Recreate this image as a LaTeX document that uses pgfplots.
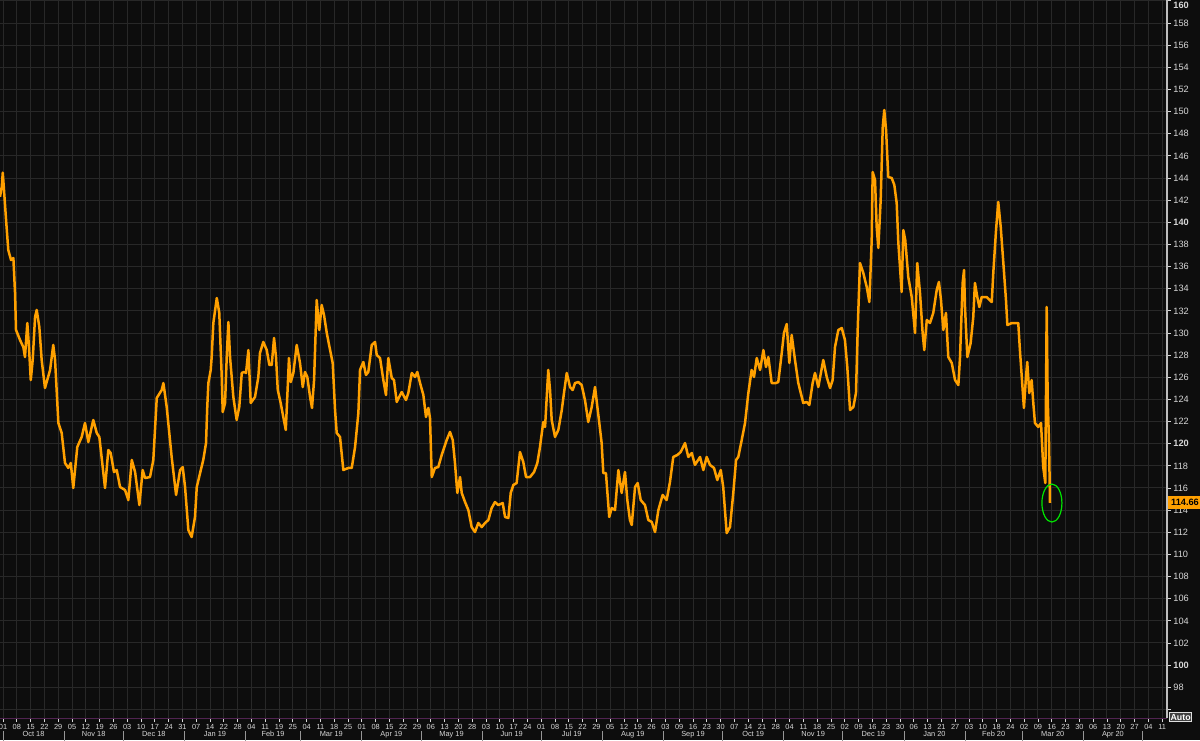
\documentclass[border=0pt]{standalone}
\usepackage{pgfplots}
\pgfplotsset{compat=1.18}
\usepackage{fontspec}
\setmainfont{Liberation Sans}
\usetikzlibrary{backgrounds}
\definecolor{bg}{RGB}{13,13,13}
\definecolor{gridc}{RGB}{40,40,40}
\definecolor{skew}{RGB}{255,160,0}
\definecolor{lbl}{RGB}{215,215,215}
\definecolor{xline}{RGB}{80,35,80}
\definecolor{yline}{RGB}{190,190,190}
\definecolor{ringc}{RGB}{0,230,0}
\begin{document}
\begin{tikzpicture}[background rectangle/.style={fill=bg,draw=none}, show background rectangle, inner frame sep=0pt]
\begin{axis}[
 name=ax, scale only axis, width=583.5pt, height=359pt,
 xmin=-0.22, xmax=84.35, ymin=95.22, ymax=160.08,
 axis x line*=bottom, axis y line*=right,
 x axis line style={color=xline, line width=0.5pt},
 y axis line style={color=yline, line width=0.6pt},
 xtick={0,...,84},
 xticklabels={01,08,15,22,29,05,12,19,26,03,10,17,24,31,07,14,22,28,04,11,19,25,04,11,18,25,01,08,15,22,29,06,13,20,28,03,10,17,24,01,08,15,22,29,05,12,19,26,03,09,16,23,30,07,14,21,28,04,11,18,25,02,09,16,23,30,06,13,21,27,03,10,18,24,02,09,16,23,30,06,13,20,27,04,11},
 ytick={96,98,...,160},
 yticklabels={{},98,\textbf{100},102,104,106,108,110,112,114,116,118,\textbf{120},122,124,126,128,130,132,134,136,138,\textbf{140},142,144,146,148,150,152,154,156,158,\raisebox{-3.7pt}[0pt][0pt]{\textbf{160}}},
 grid=major, major grid style={color=gridc, line width=0.5pt},
 tick align=outside, major tick length=2pt,
 every tick/.style={color=lbl, line width=0.4pt},
 xticklabel style={font=\fontsize{3.7}{4}\selectfont, text=lbl, inner sep=0pt, anchor=north, yshift=-1pt},
 yticklabel style={font=\fontsize{4.6}{5}\selectfont, text=lbl, inner sep=0pt, anchor=west, xshift=1pt},
 extra x ticks={2.21,6.57,10.93,15.36,19.57,23.79,28.14,32.5,36.86,41.21,45.64,50.0,54.36,58.71,63.07,67.5,71.79,76.07,80.43},
 extra x tick labels={Oct 18,Nov 18,Dec 18,Jan 19,Feb 19,Mar 19,Apr 19,May 19,Jun 19,Jul 19,Aug 19,Sep 19,Oct 19,Nov 19,Dec 19,Jan 20,Feb 20,Mar 20,Apr 20},
 extra x tick style={grid=none, major tick length=0pt, tick label style={font=\bfseries\fontsize{4.4}{5}\selectfont, yshift=-5.3pt}},
 clip=false,
]
\addplot[color=skew, line width=1.25pt, line join=round] coordinates {
(-0.22,142.31) (-0.09,143.22) (-0.02,144.48) (0.07,142.92) (0.22,140.21) (0.38,137.50) (0.58,136.59) (0.75,136.77) (0.87,133.61) (0.94,130.27)
(1.23,129.37) (1.47,128.73) (1.59,127.83) (1.76,130.90) (1.88,128.73) (2.01,125.75) (2.15,127.56) (2.32,131.44) (2.44,132.08) (2.63,130.54)
(2.80,127.56) (3.04,125.03) (3.41,126.66) (3.64,128.92) (3.77,127.56) (4.01,121.87) (4.25,120.97) (4.49,118.26) (4.73,117.81) (4.91,118.26)
(5.09,116.00) (5.38,119.70) (5.70,120.61) (5.94,121.87) (6.18,120.15) (6.54,122.14) (6.79,120.97) (6.98,120.61) (7.39,116.00) (7.63,119.43)
(7.80,119.16) (8.04,117.44) (8.24,117.62) (8.48,116.09) (8.84,115.82) (9.08,114.91) (9.33,118.53) (9.57,117.44) (9.88,114.46) (10.12,117.62)
(10.29,116.90) (10.65,116.99) (10.89,118.53) (11.14,124.13) (11.50,124.85) (11.62,125.48) (11.86,123.32) (12.22,118.80) (12.54,115.37) (12.83,117.62)
(13.02,117.89) (13.19,116.09) (13.43,112.20) (13.67,111.57) (13.91,113.38) (14.04,116.09) (14.28,117.35) (14.51,118.53) (14.71,120.06) (14.80,123.32)
(14.88,125.48) (15.05,126.66) (15.12,127.83) (15.24,130.90) (15.49,133.16) (15.67,131.81) (15.85,126.03) (15.92,122.86) (16.09,123.68) (16.21,127.83)
(16.33,130.99) (16.45,127.83) (16.69,124.22) (16.93,122.14) (17.12,123.32) (17.30,126.39) (17.46,126.48) (17.61,126.39) (17.78,128.46) (17.95,123.68)
(18.26,124.22) (18.50,126.03) (18.62,128.19) (18.86,129.19) (19.11,128.46) (19.30,127.11) (19.47,127.11) (19.64,129.55) (19.78,127.83) (19.91,124.85)
(20.12,123.68) (20.31,122.41) (20.49,121.24) (20.63,125.12) (20.72,127.74) (20.85,125.57) (21.04,126.39) (21.28,128.92) (21.52,127.29) (21.72,125.12)
(21.88,126.48) (22.05,126.03) (22.25,124.22) (22.39,123.23) (22.54,125.75) (22.73,132.98) (22.92,130.27) (23.09,132.53) (23.26,131.63) (23.46,130.00)
(23.70,128.46) (23.89,127.29) (24.06,123.04) (24.18,120.97) (24.42,120.61) (24.66,117.62) (25.02,117.81) (25.27,117.81) (25.51,119.70) (25.75,122.77)
(25.87,126.66) (26.11,127.38) (26.30,126.21) (26.47,126.48) (26.72,128.92) (26.96,129.19) (27.08,128.01) (27.32,127.74) (27.56,125.75) (27.75,124.40)
(27.92,127.74) (28.17,125.93) (28.33,125.75) (28.53,123.77) (28.89,124.67) (29.20,123.95) (29.37,124.58) (29.62,126.39) (29.86,126.03) (30.02,126.48)
(30.22,125.48) (30.46,124.40) (30.65,122.41) (30.82,123.23) (30.94,122.32) (31.07,116.99) (31.30,117.81) (31.54,117.89) (31.79,118.98) (32.15,120.33)
(32.39,121.06) (32.59,120.33) (32.75,118.26) (32.92,115.55) (33.12,116.99) (33.24,115.55) (33.48,114.73) (33.72,114.01) (33.96,112.47) (34.20,112.02)
(34.44,112.84) (34.69,112.47) (34.93,112.84) (35.17,113.11) (35.41,114.19) (35.65,114.73) (35.89,114.46) (36.21,114.64) (36.38,113.38) (36.62,113.29)
(36.79,115.55) (36.98,116.27) (37.22,116.45) (37.46,119.25) (37.70,118.35) (37.90,116.99) (38.19,116.99) (38.48,117.44) (38.72,118.26) (38.91,119.70)
(39.15,121.96) (39.28,121.51) (39.51,126.66) (39.64,124.85) (39.76,122.14) (40.00,120.61) (40.24,121.24) (40.49,123.04) (40.65,124.58) (40.85,126.39)
(41.09,125.12) (41.28,124.85) (41.45,125.48) (41.69,125.57) (41.93,125.30) (42.17,123.95) (42.41,121.96) (42.66,123.32) (42.90,125.12) (43.07,123.32)
(43.21,121.87) (43.38,120.06) (43.50,117.35) (43.69,117.35) (43.93,113.38) (44.11,114.19) (44.35,114.01) (44.59,117.62) (44.83,115.55) (45.07,117.44)
(45.24,114.91) (45.43,113.11) (45.56,112.66) (45.80,116.09) (45.99,116.45) (46.21,114.91) (46.52,114.46) (46.76,113.11) (47.01,112.93) (47.25,112.02)
(47.49,114.01) (47.80,115.37) (48.09,114.91) (48.33,116.54) (48.57,118.80) (48.86,118.98) (49.11,119.25) (49.42,120.06) (49.66,118.80) (49.91,119.16)
(50.14,118.08) (50.51,118.80) (50.75,117.62) (50.99,118.80) (51.23,118.08) (51.52,117.81) (51.76,116.72) (52.01,117.62) (52.19,116.09) (52.44,111.93)
(52.68,112.47) (52.92,115.55) (53.12,118.53) (53.28,118.80) (53.53,120.33) (53.77,121.87) (54.01,124.58) (54.25,126.66) (54.42,126.03) (54.62,127.74)
(54.86,126.66) (55.10,128.46) (55.29,126.93) (55.46,127.83) (55.70,125.48) (56.01,125.48) (56.18,125.57) (56.43,128.19) (56.59,130.00) (56.79,130.81)
(56.98,127.29) (57.15,129.82) (57.39,127.56) (57.63,125.48) (57.99,123.68) (58.24,123.77) (58.43,123.50) (58.67,125.48) (58.84,126.39) (59.08,125.12)
(59.44,127.56) (59.69,126.03) (59.93,125.03) (60.12,125.75) (60.29,128.73) (60.53,130.27) (60.78,130.45) (61.01,129.37) (61.18,126.93) (61.38,123.04)
(61.62,123.32) (61.81,124.58) (61.94,130.54) (62.10,136.32) (62.34,135.42) (62.59,134.15) (62.78,132.80) (62.95,138.40) (63.02,144.54) (63.19,143.82)
(63.31,139.57) (63.43,137.68) (63.60,142.01) (63.75,148.61) (63.86,150.14) (63.99,148.34) (64.15,144.09) (64.40,144.00) (64.59,143.37) (64.76,141.74)
(64.88,138.13) (65.00,135.96) (65.12,133.70) (65.24,139.30) (65.38,138.40) (65.60,135.06) (65.85,133.25) (66.09,130.00) (66.25,136.32) (66.45,133.61)
(66.64,130.00) (66.76,128.46) (66.94,131.17) (67.17,130.90) (67.41,131.81) (67.66,133.88) (67.82,134.61) (67.97,132.98) (68.14,130.27) (68.33,131.81)
(68.50,127.83) (68.75,127.29) (68.99,125.75) (69.23,125.30) (69.35,127.83) (69.54,134.52) (69.64,135.69) (69.71,132.35) (69.88,127.83) (70.12,129.10)
(70.31,131.44) (70.43,134.52) (70.60,133.25) (70.75,132.35) (70.92,133.25) (71.28,133.25) (71.65,132.80) (71.76,135.42) (71.96,139.30) (72.12,141.83)
(72.30,139.57) (72.49,136.32) (72.68,132.98) (72.78,130.72) (73.10,130.90) (73.57,130.90) (73.69,128.46) (73.89,124.85) (73.98,123.23) (74.13,126.03)
(74.22,127.38) (74.37,124.58) (74.54,125.75) (74.66,123.68) (74.78,121.87) (75.02,121.51) (75.22,121.87) (75.38,117.89) (75.53,116.45) (75.63,132.35)
(75.70,124.22) (75.80,120.06) (75.87,114.66)
};
\pgfplotsinvokeforeach{0,4.43,8.71,13.14,17.57,21.57,26,30.29,34.71,39,43.43,47.86,52.14,56.57,60.86,65.29,69.71,73.86,78.29,82.57}{
 \draw[color=lbl!70!black, line width=0.4pt] (axis cs:#1,95.22) ++(0pt,-6.5pt) -- ++(0pt,-6pt);
}
\draw[color=ringc, line width=0.6pt] (axis cs:76.01,114.64) ellipse [x radius=5pt, y radius=9.5pt];
\coordinate (lastlab) at (axis cs:84.35,114.66);
\end{axis}
\node[fill=skew, text=black, font=\bfseries\fontsize{4.6}{5}\selectfont, inner sep=0.6pt, minimum height=6.5pt, minimum width=17pt, anchor=west] at ([xshift=0.3pt]lastlab) {114.66};
\node[fill=black!75, draw=lbl!80, line width=0.4pt, text=white, font=\bfseries\fontsize{4.4}{5}\selectfont, inner sep=0.6pt, anchor=west] at ([xshift=1pt,yshift=0.5pt]ax.south east) {Auto};
\pgfresetboundingbox
\path[use as bounding box] ([yshift=-11pt]ax.south west) rectangle ([xshift=16.5pt]ax.north east);
\end{tikzpicture}
\end{document}
